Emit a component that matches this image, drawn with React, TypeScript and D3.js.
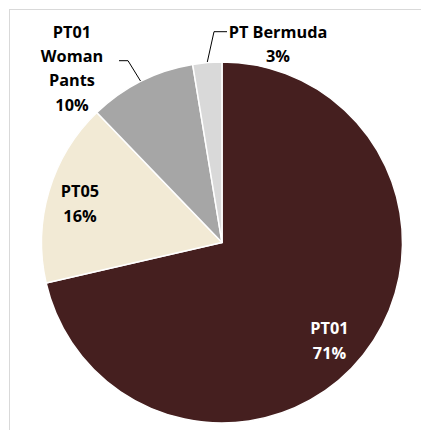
import React from "react";
import * as d3 from "d3";

const categories = ["PT01", "PT05", "PT01 Woman Pants", "PT Bermuda"];
const values = [71.4, 16.4, 9.6, 2.6];
const labelLines = [["PT01", "71%"], ["PT05", "16%"], ["PT01", "Woman", "Pants", "10%"], ["PT Bermuda", "3%"]];

const colors = ["#451f1f", "#f2ead5", "#a6a6a6", "#d9d9d9"];
const textColors = ["#ffffff", "#000000", "#000000", "#000000"];
// label anchor layout (center x, first baseline y)
const labelLayout = [
  { x: 329.5, y: 334.3 },
  { x: 80, y: 197.3 },
  { x: 72, y: 37.8 },
  { x: 278, y: 37.8 },
];
const leaders: ([number, number][] | null)[] = [
  null,
  null,
  [[119, 60.7], [128, 60.7], [140.5, 81]],
  [[227, 31.7], [214, 31.7], [207.3, 62]],
];

const W = 421, H = 430;
const cx = 222, cy = 242.5, R = 180.5;
const lineGap = 24.3;

export default function App() {
  const pie = d3.pie<number>().sort(null).startAngle(0).endAngle(2 * Math.PI);
  const arcs = pie(values);
  const arc = d3.arc<d3.PieArcDatum<number>>().innerRadius(0).outerRadius(R);
  const line = d3.line();
  return (
    <svg width={W} height={H} style={{ position: "absolute", left: 0, top: 0 }}>
      <rect x={0} y={0} width={W} height={H} fill="#ffffff" />
      <rect x={9.5} y={9.5} width={W + 20} height={H + 20} fill="none" stroke="#d9d9d9" strokeWidth={1} />
      <g transform={`translate(${cx},${cy})`}>
        {arcs.map((a, i) => (
          <path key={categories[i]} d={arc(a) || ""} fill={colors[i]} stroke="#ffffff" strokeWidth={1.5} strokeLinejoin="round" />
        ))}
      </g>
      {leaders.map((pts, i) =>
        pts ? <path key={"l" + i} d={line(pts) || ""} fill="none" stroke="#000000" strokeWidth={1} /> : null
      )}
      {labelLines.map((lines, i) => (
        <text
          key={"t" + i}
          textAnchor="middle"
          fontFamily="'Open Sans', sans-serif"
          fontWeight={700}
          fontSize={16.3}
          fill={textColors[i]}
        >
          {lines.map((s, j) => (
            <tspan key={j} x={labelLayout[i].x} y={labelLayout[i].y + j * lineGap}>
              {s}
            </tspan>
          ))}
        </text>
      ))}
    </svg>
  );
}
